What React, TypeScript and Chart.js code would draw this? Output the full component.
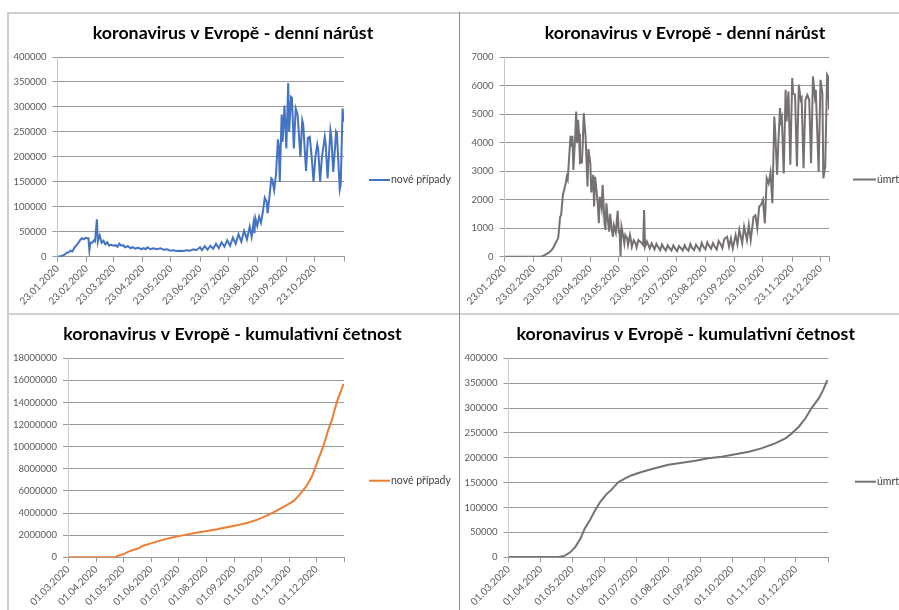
import React, { useEffect, useRef } from 'react';
import { Chart, registerables } from 'chart.js';

Chart.register(...registerables);

// ---------------- data ----------------
const titleDaily = 'koronavirus v Evropě - denní nárůst';
const titleCumulative = 'koronavirus v Evropě - kumulativní četnost';
const labelCases = 'nové případy';
const labelDeaths = 'úmrtí';

// day offsets from 23.01.2020
const dailyTickDays = [0, 31, 60, 91, 121, 152, 182, 213, 244, 274, 305, 335];
const dailyTickLabels = ['23.01.2020', '23.02.2020', '23.03.2020', '23.04.2020', '23.05.2020', '23.06.2020', '23.07.2020', '23.08.2020', '23.09.2020', '23.10.2020', '23.11.2020', '23.12.2020'];
// day offsets from 01.03.2020
const cumTickDays = [0, 31, 61, 92, 122, 153, 184, 214, 245, 275];
const cumTickLabels = ['01.03.2020', '01.04.2020', '01.05.2020', '01.06.2020', '01.07.2020', '01.08.2020', '01.09.2020', '01.10.2020', '01.11.2020', '01.12.2020'];

const casesDays = [0, 3, 6, 8, 10, 12, 14, 16, 18, 20, 22, 24, 26, 28, 30, 32, 33, 34, 35, 37, 39, 40, 42, 43, 44, 45, 47, 49, 51, 53, 55, 57, 60, 62, 64, 66, 68, 70, 72, 75, 78, 80, 83, 86, 89, 92, 94, 96, 99, 102, 106, 110, 113, 117, 120, 124, 127, 131, 134, 138, 141, 145, 148, 152, 154, 157, 160, 163, 166, 169, 172, 175, 178, 181, 184, 187, 190, 193, 196, 199, 202, 205, 207, 209, 210, 211, 213, 215, 217, 219, 221, 223, 224, 226, 228, 229, 231, 233, 235, 236, 237, 239, 240, 242, 244, 246, 247, 249, 250, 252, 254, 256, 259, 261, 262, 265, 267, 269, 271, 273, 275, 277, 278, 280, 282, 285, 286, 288, 290, 291, 292, 294, 296, 297, 298, 301, 302, 304, 305];
const casesValues = [0, 1000, 2500, 5000, 8000, 9000, 12000, 11000, 18000, 22000, 27000, 33000, 37000, 35000, 38000, 37000, 37000, 13000, 28000, 28000, 33000, 31000, 75000, 30000, 38000, 43000, 28000, 32000, 25000, 29000, 22000, 24000, 22000, 23000, 20000, 26000, 22000, 23000, 19000, 21000, 17000, 19000, 16000, 18000, 15000, 17000, 15000, 19000, 15000, 17000, 15000, 17000, 14000, 15000, 12000, 13000, 11500, 12000, 11500, 13000, 12000, 15000, 13000, 19000, 13000, 21000, 14000, 22000, 16000, 26000, 17000, 29000, 20000, 33000, 22000, 38000, 26000, 45000, 30000, 52000, 35000, 60000, 40000, 67000, 47000, 77000, 62000, 80000, 68000, 90000, 118000, 110000, 87000, 120000, 157000, 155000, 133000, 165000, 235000, 220000, 150000, 285000, 230000, 303000, 217000, 348000, 250000, 320000, 318000, 217000, 297000, 285000, 200000, 273000, 265000, 172000, 238000, 240000, 200000, 150000, 200000, 225000, 215000, 150000, 200000, 240000, 225000, 157000, 220000, 253000, 240000, 170000, 220000, 250000, 245000, 135000, 145000, 297000, 270000];

const deathsDays = [0, 38, 41, 44, 47, 50, 52, 54, 56, 57, 59, 60, 62, 63, 65, 66, 67, 68, 70, 71, 72, 73, 75, 76, 77, 78, 79, 80, 82, 83, 84, 86, 87, 88, 89, 91, 92, 94, 95, 96, 97, 99, 100, 101, 103, 104, 106, 107, 108, 110, 111, 112, 114, 115, 116, 118, 120, 121, 122, 123, 124, 125, 127, 128, 130, 131, 133, 134, 135, 137, 139, 140, 142, 145, 147, 148, 149, 151, 154, 156, 159, 161, 163, 165, 167, 169, 171, 173, 175, 177, 179, 181, 183, 185, 187, 189, 191, 193, 195, 197, 199, 201, 203, 205, 207, 209, 211, 213, 215, 217, 219, 221, 223, 225, 227, 229, 231, 233, 236, 238, 240, 242, 245, 247, 249, 252, 254, 257, 259, 261, 264, 266, 268, 270, 272, 274, 276, 278, 280, 282, 284, 286, 287, 289, 290, 292, 293, 294, 296, 298, 299, 301, 303, 305, 306, 308, 310, 312, 314, 315, 317, 319, 321, 323, 325, 327, 329, 330, 333, 335, 337, 338, 340, 342, 343, 344];
const deathsValues = [0, 0, 30, 80, 140, 230, 330, 470, 600, 670, 1400, 1450, 2200, 2300, 2600, 2800, 2700, 3200, 4240, 3860, 4240, 3040, 4250, 5090, 3980, 4800, 4300, 3280, 3300, 3980, 5030, 4190, 3280, 2460, 3770, 3280, 2250, 2870, 1760, 2800, 2520, 1800, 1170, 2100, 1700, 2520, 1200, 940, 1870, 1150, 880, 1500, 880, 700, 1100, 850, 1610, 880, 900, 0, 1050, 880, 470, 760, 640, 410, 760, 580, 350, 580, 470, 330, 580, 490, 410, 1640, 350, 530, 290, 470, 260, 450, 330, 230, 430, 300, 220, 400, 300, 220, 400, 280, 200, 380, 300, 220, 400, 270, 210, 450, 300, 230, 420, 320, 220, 480, 340, 260, 500, 380, 280, 480, 350, 250, 550, 450, 300, 620, 700, 350, 640, 290, 760, 440, 940, 470, 1050, 580, 1110, 580, 1400, 1450, 1000, 1760, 1820, 2000, 1170, 2750, 2570, 2950, 1870, 4910, 4390, 2870, 3740, 5210, 4760, 4880, 2920, 5850, 4740, 5790, 3220, 6260, 5730, 5670, 3160, 6030, 5500, 5560, 3100, 5500, 5670, 5500, 3280, 6320, 5620, 5850, 2980, 6200, 5730, 2750, 3160, 6380, 6320, 5150];

const cumCasesDays = [0, 52, 56, 61, 67, 72, 78, 83, 91, 98, 106, 113, 120, 131, 142, 154, 165, 176, 187, 198, 209, 220, 231, 242, 250, 257, 264, 270, 275, 279, 283, 288, 292, 296, 299, 302, 305];
const cumCasesValues = [0, 0, 150000, 270000, 510000, 660000, 810000, 1050000, 1240000, 1420000, 1600000, 1750000, 1870000, 2050000, 2230000, 2380000, 2530000, 2710000, 2890000, 3100000, 3380000, 3770000, 4220000, 4730000, 5100000, 5730000, 6450000, 7300000, 8410000, 9260000, 10160000, 11500000, 12400000, 13600000, 14400000, 15000000, 15700000];

const cumDeathsDays = [0, 48, 54, 59, 64, 69, 73, 78, 83, 88, 93, 99, 105, 112, 118, 128, 140, 153, 166, 179, 191, 204, 217, 230, 242, 255, 265, 271, 278, 284, 290, 297, 301, 305];
const cumDeathsValues = [400, 500, 3300, 10000, 21000, 38000, 58000, 75000, 95000, 112000, 125000, 137000, 151000, 159000, 165000, 172000, 179000, 186000, 190000, 194000, 199000, 202000, 207000, 212000, 219000, 229000, 239000, 249000, 263000, 279000, 300000, 320000, 336000, 356000];

// ---------------- layout (page coordinates) ----------------
const panels = [
  {
    key: 'tl', box: { left: 8, top: 15, width: 450, height: 298 },
    area: { l: 57.5, r: 344, t: 57, b: 256.7 },
    title: titleDaily, titleX: 233, titleY: 33,
    legend: { x1: 369, x2: 390, y: 180 },
    label: labelCases, color: '#4472C4',
    days: casesDays, values: casesValues,
    xMax: 305.5, tickDays: dailyTickDays.slice(0, 10), tickLabels: dailyTickLabels.slice(0, 10),
    yMax: 400000, yStep: 50000,
  },
  {
    key: 'tr', box: { left: 460, top: 15, width: 439, height: 298 },
    area: { l: 504.5, r: 829, t: 57, b: 256.7 },
    title: titleDaily, titleX: 685, titleY: 33,
    legend: { x1: 853, x2: 876, y: 179.5 },
    label: labelDeaths, color: '#767171',
    days: deathsDays, values: deathsValues,
    xMax: 344, tickDays: dailyTickDays, tickLabels: dailyTickLabels,
    yMax: 7000, yStep: 1000,
  },
  {
    key: 'bl', box: { left: 9, top: 315, width: 449, height: 295 },
    area: { l: 68, r: 344, t: 358.3, b: 557.3 },
    title: titleCumulative, titleX: 232.5, titleY: 334,
    legend: { x1: 369, x2: 390, y: 480.7 },
    label: labelCases, color: '#ED7D31',
    days: cumCasesDays, values: cumCasesValues,
    xMax: 305.5, tickDays: cumTickDays, tickLabels: cumTickLabels,
    yMax: 18000000, yStep: 2000000,
  },
  {
    key: 'br', box: { left: 460, top: 315, width: 439, height: 295 },
    area: { l: 508.5, r: 828.3, t: 358.3, b: 557.3 },
    title: titleCumulative, titleX: 685.8, titleY: 334,
    legend: { x1: 855, x2: 876, y: 481.7 },
    label: labelDeaths, color: '#767171',
    days: cumDeathsDays, values: cumDeathsValues,
    xMax: 306, tickDays: cumTickDays, tickLabels: cumTickLabels,
    yMax: 400000, yStep: 50000,
  },
];

type PanelCfg = typeof panels[number];

function Panel({ cfg }: { cfg: PanelCfg }) {
  const ref = useRef<HTMLCanvasElement | null>(null);
  useEffect(() => {
    const canvas = ref.current;
    if (!canvas) return;
    const { box, area } = cfg;
    const yWidth = area.l - box.left;
    const padTop = area.t - box.top;
    const padRight = box.left + box.width - area.r;
    const xHeight = box.top + box.height - area.b;
    const tickVals = [...cfg.tickDays, cfg.xMax];

    const deco = {
      id: 'deco_' + cfg.key,
      afterDraw(chart: any) {
        const ctx = chart.ctx;
        ctx.save();
        ctx.fillStyle = '#000000';
        ctx.font = 'bold 17.8px Lato';
        ctx.textAlign = 'center';
        ctx.textBaseline = 'middle';
        ctx.fillText(cfg.title, cfg.titleX - box.left, cfg.titleY - box.top);
        const ds = chart.data.datasets[0];
        const ly = cfg.legend.y - box.top;
        ctx.strokeStyle = ds.borderColor;
        ctx.lineWidth = 2;
        ctx.beginPath();
        ctx.moveTo(cfg.legend.x1 - box.left, ly);
        ctx.lineTo(cfg.legend.x2 - box.left, ly);
        ctx.stroke();
        ctx.font = '10.5px Lato';
        ctx.fillStyle = '#404040';
        ctx.textAlign = 'left';
        ctx.fillText(ds.label, cfg.legend.x2 - box.left + 1, ly);
        ctx.restore();
      },
    };

    const chart = new Chart(canvas, {
      type: 'line',
      data: {
        datasets: [
          {
            label: cfg.label,
            data: cfg.days.map((d, i) => ({ x: d, y: cfg.values[i] })),
            borderColor: cfg.color,
            backgroundColor: cfg.color,
            borderWidth: 2,
            pointRadius: 0,
            tension: 0,
            fill: false,
          },
        ],
      },
      options: {
        animation: false,
        responsive: false,
        maintainAspectRatio: false,
        devicePixelRatio: 1,
        layout: { padding: { left: 0, top: padTop, right: padRight, bottom: 0 } },
        plugins: {
          legend: { display: false },
          title: { display: false },
          tooltip: { enabled: false },
        },
        scales: {
          x: {
            type: 'linear',
            min: 0,
            max: cfg.xMax,
            afterBuildTicks: (s: any) => {
              s.ticks = tickVals.map((v) => ({ value: v }));
            },
            afterFit: (s: any) => {
              s.height = xHeight;
            },
            ticks: {
              autoSkip: false,
              maxRotation: 45,
              minRotation: 45,
              color: '#595959',
              font: { family: 'Lato', size: 10 },
              padding: 1,
              callback: (_v: any, i: number) => (i < cfg.tickLabels.length ? cfg.tickLabels[i] : ''),
            },
            grid: { drawOnChartArea: false, drawTicks: true, tickLength: 5, color: '#9a9a9a' },
            border: { display: true, color: '#9a9a9a' },
          },
          y: {
            type: 'linear',
            min: 0,
            max: cfg.yMax,
            afterFit: (s: any) => {
              s.width = yWidth;
            },
            ticks: {
              stepSize: cfg.yStep,
              color: '#595959',
              font: { family: 'Lato', size: 9.5 },
              padding: 6,
              callback: (v: any) => String(v),
            },
            grid: { color: '#999999', tickLength: 5 },
            border: { display: true, color: '#c8c8c8' },
          },
        },
      },
      plugins: [deco],
    } as any);
    return () => chart.destroy();
  }, [cfg]);

  return (
    <canvas
      ref={ref}
      width={cfg.box.width}
      height={cfg.box.height}
      style={{ position: 'absolute', left: cfg.box.left, top: cfg.box.top, width: cfg.box.width, height: cfg.box.height }}
    />
  );
}

export default function App() {
  return (
    <div style={{ position: 'absolute', left: 0, top: 0, width: 899, height: 610, overflow: 'hidden', background: '#ffffff' }}>
      <div style={{ position: 'absolute', left: 7, top: 12, width: 892, height: 2, background: '#cfcfcf' }} />
      <div style={{ position: 'absolute', left: 7, top: 313, width: 892, height: 2, background: '#cfcfcf' }} />
      <div style={{ position: 'absolute', left: 7, top: 12, width: 2, height: 598, background: '#cfcfcf' }} />
      <div style={{ position: 'absolute', left: 459, top: 12, width: 1, height: 598, background: '#8c8c8c' }} />
      {panels.map((p) => (
        <Panel key={p.key} cfg={p} />
      ))}
    </div>
  );
}
